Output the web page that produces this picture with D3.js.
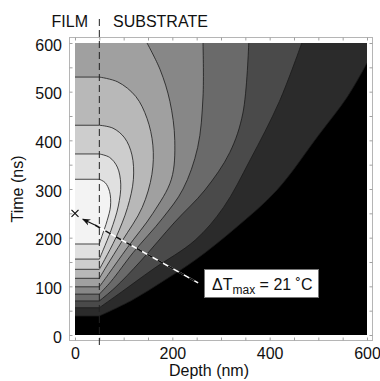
<!DOCTYPE html>
<html>
<head>
<meta charset="utf-8">
<script src="https://cdn.jsdelivr.net/npm/d3@7"></script>
<style>
  body { margin: 0; background: #fff; }
  text { font-family: "Liberation Sans", Arial, Helvetica, sans-serif; fill: #111; }
</style>
</head>
<body>
<svg id="chart" width="380" height="381"></svg>
<script>

// axis ticks
var depthTicks = [0, 200, 400, 600];
var timeTicks = [0, 100, 200, 300, 400, 500, 600];

// film / substrate interface (nm)
var filmDepth = 50;

// contour boundaries as [depth nm, time ns],
// lowest level first. Each starts at the interface; inside the film
// the contour is flat, so the film part is just the first/last time.
var contour1 = [[50, 39], [118, 72], [180, 110], [247, 154], [330, 220], [415, 298], [500, 410], [560, 490], [600, 559]];
var contour2 = [[50, 56], [95, 88], [160, 135], [247, 195], [305, 262], [360, 360], [420, 480], [466, 600]];
var contour3 = [[50, 70], [82, 97], [135, 152], [205, 232], [267, 298], [318, 375], [345, 456], [357, 600]];
var contour4 = [[50, 84], [74, 110], [120, 170], [180, 240], [222, 300], [252, 385], [263, 489], [263, 600]];
var contour5 = [[50, 99], [68, 124], [108, 180], [160, 250], [198, 320], [205, 400], [195, 480], [175, 545], [148, 600]];
var contour6 = [[50, 116.5], [64, 140], [98, 195], [138, 262], [158, 330], [160, 390], [148, 445], [125, 490], [88, 520], [50, 530]];
var contour7 = [[50, 135], [61, 155], [84, 200], [108, 262], [120, 320], [117, 370], [102, 405], [78, 425], [50, 431]];
var contour8 = [[50, 156], [58, 175], [74, 215], [89, 265], [94, 310], [87, 345], [71, 365], [50, 372]];
var contour9 = [[50, 187], [56, 205], [66, 235], [73, 265], [71, 295], [62, 313], [50, 320]];

var contours = [contour1, contour2, contour3, contour4, contour5, contour6, contour7, contour8, contour9];

// fill of the region above each contour level (below level 1 is black)
var bandGrays = ["#2b2b2b", "#4a4a4a", "#6a6a6a", "#878787", "#a0a0a0", "#b8b8b8", "#cdcdcd", "#e0e0e0", "#f3f3f3"];

// peak marker
var peakPoint = [0, 250];
var peakLabel = { main: "\u0394T", sub: "max", rest: " = 21 \u02DAC" };

var svg = d3.select("#chart");

var x = d3.scaleLinear().domain([0, 600]).range([75, 367]);
var y = d3.scaleLinear().domain([0, 600]).range([335, 43]);

var curveGen = d3.line()
    .x(function (d) { return x(d[0]); })
    .y(function (d) { return y(d[1]); })
    .curve(d3.curveCatmullRom.alpha(0.5));

function isClosed(pts) {
    var last = pts[pts.length - 1];
    return last[0] === filmDepth && last[1] < 600;
}

// film segment + substrate curve
function contourPath(pts) {
    var t0 = pts[0][1];
    var p = "M" + x(0) + "," + y(t0) + curveGen(pts).replace(/^M/, "L");
    if (isClosed(pts)) p += "L" + x(0) + "," + y(pts[pts.length - 1][1]);
    return p;
}

function regionPath(pts) {
    var p = contourPath(pts);
    if (!isClosed(pts)) {
        var last = pts[pts.length - 1];
        if (last[1] < 600) p += "L" + x(600) + "," + y(600);
        p += "L" + x(0) + "," + y(600);
    }
    return p + "Z";
}

svg.append("clipPath").attr("id", "plotClip")
  .append("rect")
    .attr("x", x(0)).attr("y", y(600))
    .attr("width", x(600) - x(0)).attr("height", y(0) - y(600));

var plot = svg.append("g").attr("clip-path", "url(#plotClip)");

plot.append("rect")
    .attr("x", x(0)).attr("y", y(600))
    .attr("width", x(600) - x(0)).attr("height", y(0) - y(600))
    .attr("fill", "#000");

plot.selectAll(".band")
    .data(contours)
  .enter().append("path")
    .attr("class", "band")
    .attr("d", regionPath)
    .attr("fill", function (d, i) { return bandGrays[i]; });

plot.selectAll(".cline")
    .data(contours)
  .enter().append("path")
    .attr("class", "cline")
    .attr("d", contourPath)
    .attr("fill", "none")
    .attr("stroke", "#1a1a1a")
    .attr("stroke-width", 0.8);

// frame with small inward ticks
var frame = { left: 69.5, right: 372.5, top: 37.5, bottom: 340.5 };
var tickEvery = d3.range(0, 601, 50);

svg.append("rect")
    .attr("x", frame.left).attr("y", frame.top)
    .attr("width", frame.right - frame.left).attr("height", frame.bottom - frame.top)
    .attr("fill", "none").attr("stroke", "#b5b5b5").attr("stroke-width", 1);

function styleAxis(g) {
    g.select(".domain").remove();
    g.selectAll(".tick line").attr("stroke", "#a0a0a0");
    g.selectAll(".tick text").attr("font-size", 16).attr("fill", "#111");
}

svg.append("g")
    .attr("transform", "translate(0," + frame.bottom + ")")
    .call(d3.axisBottom(x).tickValues(tickEvery).tickSizeInner(-3).tickSizeOuter(0).tickPadding(7.6)
        .tickFormat(function (d) { return depthTicks.indexOf(d) >= 0 ? d : ""; }))
    .call(styleAxis);

svg.append("g")
    .attr("transform", "translate(" + frame.left + ",0)")
    .call(d3.axisLeft(y).tickValues(tickEvery).tickSizeInner(-3).tickSizeOuter(0).tickPadding(7.5)
        .tickFormat(function (d) { return timeTicks.indexOf(d) >= 0 ? d : ""; }))
    .call(styleAxis)
    .selectAll(".tick text").attr("dy", "0.44em");

svg.append("g")
    .attr("transform", "translate(0," + frame.top + ")")
    .call(d3.axisTop(x).tickValues(tickEvery).tickSizeInner(-3).tickSizeOuter(0).tickFormat(""))
    .call(styleAxis);

svg.append("g")
    .attr("transform", "translate(" + frame.right + ",0)")
    .call(d3.axisRight(y).tickValues(tickEvery).tickSizeInner(-3).tickSizeOuter(0).tickFormat(""))
    .call(styleAxis);

// axis titles
svg.append("text")
    .attr("x", (x(0) + x(600)) / 2 - 12).attr("y", 376)
    .attr("text-anchor", "middle").attr("font-size", 16)
    .text("Depth (nm)");

svg.append("text")
    .attr("transform", "translate(23," + ((y(0) + y(600)) / 2) + ") rotate(-90)")
    .attr("text-anchor", "middle").attr("font-size", 16)
    .text("Time (ns)");

// film / substrate divider
svg.append("line")
    .attr("x1", x(filmDepth)).attr("x2", x(filmDepth))
    .attr("y1", 19).attr("y2", 346)
    .attr("stroke", "#222").attr("stroke-width", 1)
    .attr("stroke-dasharray", "7,4");

svg.append("text")
    .attr("x", 88).attr("y", 27).attr("text-anchor", "end").attr("font-size", 16)
    .text("FILM");
svg.append("text")
    .attr("x", 113).attr("y", 27).attr("font-size", 16)
    .text("SUBSTRATE");

// peak marker and callout
var px = x(peakPoint[0]), py = y(peakPoint[1]);
svg.append("path")
    .attr("d", "M" + (px - 3.5) + "," + (py - 3.5) + "L" + (px + 3.5) + "," + (py + 3.5) +
               "M" + (px - 3.5) + "," + (py + 3.5) + "L" + (px + 3.5) + "," + (py - 3.5))
    .attr("stroke", "#111").attr("stroke-width", 1.2);

svg.append("defs").append("marker")
    .attr("id", "head").attr("viewBox", "0 0 10 10")
    .attr("refX", 9).attr("refY", 5)
    .attr("markerWidth", 7).attr("markerHeight", 7)
    .attr("orient", "auto")
  .append("path").attr("d", "M0,1L10,5L0,9L3,5Z").attr("fill", "#111");

var arrowFrom = [41, 226], arrowTo = [16, 238], calloutEnd = [253, 107];

svg.append("line")
    .attr("x1", x(arrowFrom[0])).attr("y1", y(arrowFrom[1]))
    .attr("x2", x(arrowTo[0])).attr("y2", y(arrowTo[1]))
    .attr("stroke", "#111").attr("stroke-width", 1.2)
    .attr("marker-end", "url(#head)");

// dashes alternate black and white so they read on light and dark bands
svg.append("line")
    .attr("x1", x(arrowFrom[0])).attr("y1", y(arrowFrom[1]))
    .attr("x2", x(calloutEnd[0])).attr("y2", y(calloutEnd[1]))
    .attr("stroke", "#fff").attr("stroke-width", 1.6);
svg.append("line")
    .attr("x1", x(arrowFrom[0])).attr("y1", y(arrowFrom[1]))
    .attr("x2", x(calloutEnd[0])).attr("y2", y(calloutEnd[1]))
    .attr("stroke", "#111").attr("stroke-width", 1.6)
    .attr("stroke-dasharray", "6,6");

svg.append("rect")
    .attr("x", 204.5).attr("y", 269.5).attr("width", 114).attr("height", 28)
    .attr("fill", "#fff").attr("stroke", "#777").attr("stroke-width", 1);

var lbl = svg.append("text").attr("x", 212).attr("y", 290).attr("font-size", 16);
lbl.append("tspan").text(peakLabel.main);
lbl.append("tspan").attr("font-size", 12).attr("dy", 4).text(peakLabel.sub);
lbl.append("tspan").attr("dy", -4).text(peakLabel.rest);

</script>
</body>
</html>
